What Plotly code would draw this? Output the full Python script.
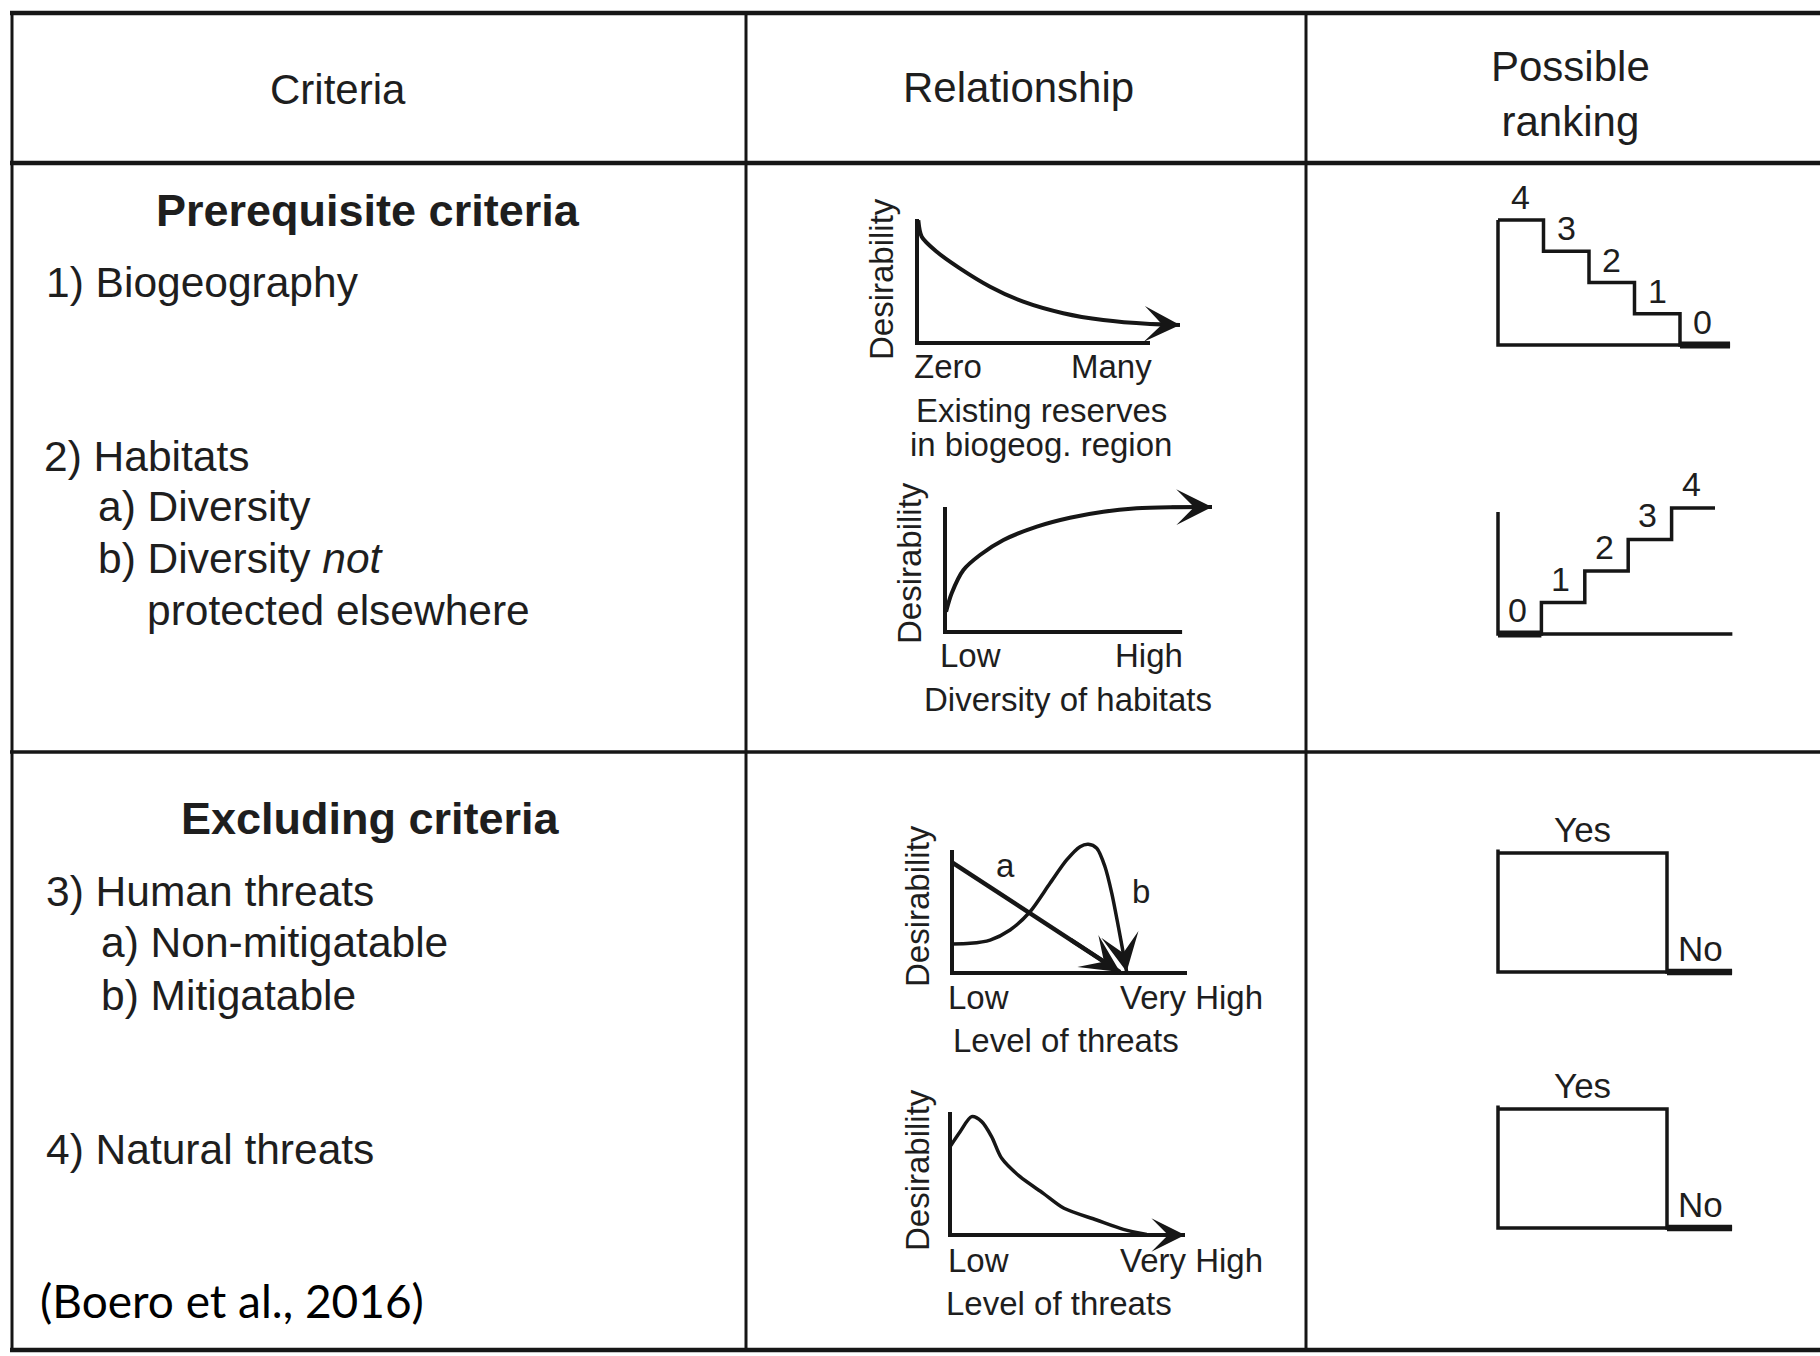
import plotly.graph_objects as go

W, H = 1820, 1356
INK = "#161616"
TXT = "#1e1e1e"
FONT = "Liberation Sans, Arial, sans-serif"

# ---------------- data ----------------
headers = ["Criteria", "Relationship", "Possible<br>ranking"]
section_titles = ["Prerequisite criteria", "Excluding criteria"]
criteria_lines = ["1) Biogeography", "2) Habitats", "a) Diversity", "b) Diversity <i>not</i>",
                  "protected elsewhere", "3) Human threats", "a) Non-mitigatable",
                  "b) Mitigatable", "4) Natural threats"]
citation = "(Boero et al., 2016)"

# relationship curves (normalised: x = level along axis, y = desirability)
bio_x = [0.005, 0.018, 0.075, 0.163, 0.278, 0.404, 0.556, 0.708, 0.886, 1.0]
bio_y = [0.99, 0.857, 0.736, 0.602, 0.454, 0.333, 0.240, 0.185, 0.153, 0.145]
hab_x = [0.004, 0.025, 0.069, 0.131, 0.219, 0.344, 0.468, 0.593, 0.718, 0.843, 1.0]
hab_y = [0.163, 0.31, 0.496, 0.616, 0.736, 0.843, 0.914, 0.962, 0.989, 0.998, 1.0]
human_a_x = [0.0, 0.715]
human_a_y = [0.90, 0.008]
human_b_x = [0.0, 0.077, 0.162, 0.247, 0.332, 0.417, 0.488, 0.545, 0.580, 0.616,
             0.651, 0.680, 0.708, 0.729, 0.743]
human_b_y = [0.236, 0.241, 0.268, 0.350, 0.498, 0.729, 0.919, 1.027, 1.046, 1.014,
             0.864, 0.648, 0.376, 0.159, 0.011]
nat_x = [0.0, 0.043, 0.092, 0.135, 0.177, 0.220, 0.298, 0.397, 0.485, 0.624, 0.738, 0.837]
nat_y = [0.718, 0.840, 0.962, 0.922, 0.800, 0.623, 0.474, 0.339, 0.217, 0.122, 0.046, 0.005]

bio_ticks = ["Zero", "Many"]
bio_title = ["Existing reserves", "in biogeog. region"]
hab_ticks = ["Low", "High"]
hab_title = "Diversity of habitats"
threat_ticks = ["Low", "Very High"]
threat_title = "Level of threats"
y_title = "Desirability"

# rankings
rank_down = [4, 3, 2, 1, 0]
rank_up = [0, 1, 2, 3, 4]
yes_no = ["Yes", "No"]
yes_no_vals = [1, 0]

# ---------------- layout helpers ----------------
layout = dict(width=W, height=H, margin=dict(l=0, r=0, t=0, b=0),
              paper_bgcolor="white", plot_bgcolor="white", showlegend=False,
              annotations=[], shapes=[])
traces = []


def add_axes(i, ox, oy, sx, sy, xr, yr):
    x0, x1 = ox + xr[0] * sx, ox + xr[1] * sx
    yb, yt = oy - yr[0] * sy, oy - yr[1] * sy
    xk = "xaxis" if i == 1 else f"xaxis{i}"
    yk = "yaxis" if i == 1 else f"yaxis{i}"
    layout[xk] = dict(domain=[x0 / W, x1 / W], range=xr, visible=False,
                      anchor="y" if i == 1 else f"y{i}", fixedrange=True)
    layout[yk] = dict(domain=[1 - yb / H, 1 - yt / H], range=yr, visible=False,
                      anchor="x" if i == 1 else f"x{i}", fixedrange=True)
    return ("x" if i == 1 else f"x{i}"), ("y" if i == 1 else f"y{i}")


def line(xa, ya, x, y, w=3.5, shape="linear", smooth=None):
    ln = dict(color=INK, width=w, shape=shape)
    if smooth is not None:
        ln["smoothing"] = smooth
    traces.append(go.Scatter(x=x, y=y, xaxis=xa, yaxis=ya, mode="lines", line=ln,
                             hoverinfo="skip", showlegend=False))


def arrow(xa, ya, x, y, ax, ay, w=3.5, size=1.7):
    layout["annotations"].append(dict(x=x, y=y, ax=ax, ay=ay, xref=xa, yref=ya,
                                      axref=xa, ayref=ya, text="", showarrow=True,
                                      arrowhead=3, arrowsize=size, arrowwidth=w,
                                      arrowcolor=INK))


def ptext(txt, px, py, size, anchor="center", angle=0, family=FONT, color=TXT):
    layout["annotations"].append(dict(text=txt, x=px / W, y=1 - py / H, xref="paper",
                                      yref="paper", showarrow=False, xanchor=anchor,
                                      yanchor="middle", textangle=angle,
                                      font=dict(family=family, size=size, color=color)))


def atext(txt, xa, ya, x, y, size=34, yshift=2):
    layout["annotations"].append(dict(text=txt, x=x, y=y, xref=xa, yref=ya,
                                      showarrow=False, xanchor="center", yanchor="bottom",
                                      yshift=yshift,
                                      font=dict(family=FONT, size=size, color=TXT)))


def hline(y, x0, x1, w):
    layout["shapes"].append(dict(type="line", xref="paper", yref="paper", x0=x0 / W, x1=x1 / W,
                                 y0=1 - y / H, y1=1 - y / H, line=dict(color=INK, width=w)))


def vline(x, y0, y1, w):
    layout["shapes"].append(dict(type="line", xref="paper", yref="paper", x0=x / W, x1=x / W,
                                 y0=1 - y0 / H, y1=1 - y1 / H, line=dict(color=INK, width=w)))


# ---------------- table grid ----------------
hline(13, 10, W, 4.5)
hline(163, 10, W, 4.5)
hline(752, 10, W, 3.5)
hline(1350, 10, W, 4.5)
vline(12, 11, 1352, 3)
vline(746, 11, 1352, 3)
vline(1306, 11, 1352, 3)

# ---------------- header ----------------
ptext(headers[0], 338, 89, 42)
ptext(headers[1], 1018, 87, 42)
ptext(headers[2], 1570, 94, 42)

# ---------------- criteria column ----------------
ptext("<b>" + section_titles[0] + "</b>", 368, 210, 45)
ptext("<b>" + section_titles[1] + "</b>", 370, 818, 45)
crit_pos = [(44, 282), (42, 456), (96, 507), (96, 559), (145, 611),
            (44, 891), (99, 942), (99, 995), (44, 1149)]
for t, (px, py) in zip(criteria_lines, crit_pos):
    ptext(t, px, py, 42.5, anchor="left")
ptext(citation, 38, 1300, 46, anchor="left", family="Lato, Carlito, sans-serif", color="#000")

# ---------------- relationship mini charts ----------------
PAD = [-0.15, 1.15]
# 1) biogeography
xa, ya = add_axes(1, 917, 343, 263, 124, PAD, PAD)
line(xa, ya, [0, 0, 0.886], [1.0, 0, 0], w=4)
line(xa, ya, bio_x, bio_y, w=4, shape="spline", smooth=0.8)
arrow(xa, ya, bio_x[-1], bio_y[-1], bio_x[-2], bio_y[-2])
ptext(bio_ticks[0], 948, 367, 33)
ptext(bio_ticks[1], 1111, 367, 33)
ptext(bio_title[0], 1041, 410, 33)
ptext(bio_title[1], 1041, 444, 33)
ptext(y_title, 882, 279, 33, angle=-90)

# 2) habitats
xa, ya = add_axes(2, 945, 632, 267, 125, PAD, PAD)
line(xa, ya, [0, 0, 0.888], [1.0, 0, 0], w=4)
line(xa, ya, hab_x, hab_y, w=4, shape="spline", smooth=0.8)
arrow(xa, ya, hab_x[-1], hab_y[-1], hab_x[-2], hab_y[-2])
ptext(hab_ticks[0], 970, 656, 33)
ptext(hab_ticks[1], 1149, 656, 33)
ptext(hab_title, 1068, 700, 33)
ptext(y_title, 909, 563, 33, angle=-90)

# 3) human threats
xa, ya = add_axes(3, 952, 973, 235, 123, PAD, PAD)
line(xa, ya, [0, 0, 1.0], [1.0, 0, 0], w=4)
line(xa, ya, human_a_x, human_a_y, w=4.5)
line(xa, ya, human_b_x, human_b_y, w=3.5, shape="spline", smooth=0.8)
arrow(xa, ya, human_a_x[-1], human_a_y[-1], 0.5, 0.276, w=4, size=1.6)
arrow(xa, ya, human_b_x[-1], human_b_y[-1], human_b_x[-2], human_b_y[-2], size=1.8)
ptext("a", 1005, 865, 33)
ptext("b", 1141, 891, 33)
ptext(threat_ticks[0], 978, 997, 33)
ptext(threat_ticks[1], 1191, 997, 33)
ptext(threat_title, 1066, 1040, 33)
ptext(y_title, 917, 906, 33, angle=-90)

# 4) natural threats
xa, ya = add_axes(4, 950, 1235, 235, 123, PAD, PAD)
line(xa, ya, [0, 0, 1.0], [1.0, 0, 0], w=4)
line(xa, ya, nat_x, nat_y, w=3.5, shape="spline", smooth=0.8)
arrow(xa, ya, 1.0, 0.0, 0.8, 0.0, w=4, size=1.4)
ptext(threat_ticks[0], 978, 1260, 33)
ptext(threat_ticks[1], 1191, 1260, 33)
ptext(threat_title, 1059, 1303, 33)
ptext(y_title, 917, 1170, 33, angle=-90)

# ---------------- ranking column ----------------
RP = [-0.6, 6.0]
# stairs down
xa, ya = add_axes(5, 1498, 345, 45.5, 31.25, RP, [-0.6, 5.2])
n = len(rank_down)
line(xa, ya, [0, 0, n - 1], [rank_down[0], 0, 0], w=3.5)
line(xa, ya, list(range(n)) + [n + 0.1], rank_down + [rank_down[-1]], w=3.5, shape="hv")
line(xa, ya, [n - 1, n + 0.1], [0, 0], w=7)
for i, v in enumerate(rank_down):
    atext(str(v), xa, ya, i + 0.5, v)

# stairs up
xa, ya = add_axes(6, 1498, 634, 43.4, 31.5, RP, [-0.6, 5.2])
n = len(rank_up)
line(xa, ya, [0, 0, n + 0.4], [3.87, 0, 0], w=3.5)
line(xa, ya, list(range(n + 1)), rank_up + [rank_up[-1]], w=3.5, shape="hv")
line(xa, ya, [0, 1], [0, 0], w=7)
for i, v in enumerate(rank_up):
    atext(str(v), xa, ya, i + 0.45, v, yshift=3)

# yes / no boxes
for k, oy in enumerate([972, 1228]):
    xa, ya = add_axes(7 + k, 1498, oy, 169, 119, [-0.2, 1.6], [-0.3, 1.4])
    line(xa, ya, [0, 0, 1], [1.03, 0, 0], w=3.5)
    line(xa, ya, [0, 1, 1.385], [yes_no_vals[0], yes_no_vals[1], yes_no_vals[1]], w=3.5, shape="hv")
    line(xa, ya, [1, 1.385], [0, 0], w=6.5)
    atext(yes_no[0], xa, ya, 0.5, yes_no_vals[0], size=35)
    atext(yes_no[1], xa, ya, 1.2, yes_no_vals[1], size=35)

fig = go.Figure(data=traces, layout=layout)
fig.write_html("out.html", config={"displayModeBar": False, "staticPlot": True},
               post_script="document.body.style.margin='0';document.body.style.overflow='hidden';")
